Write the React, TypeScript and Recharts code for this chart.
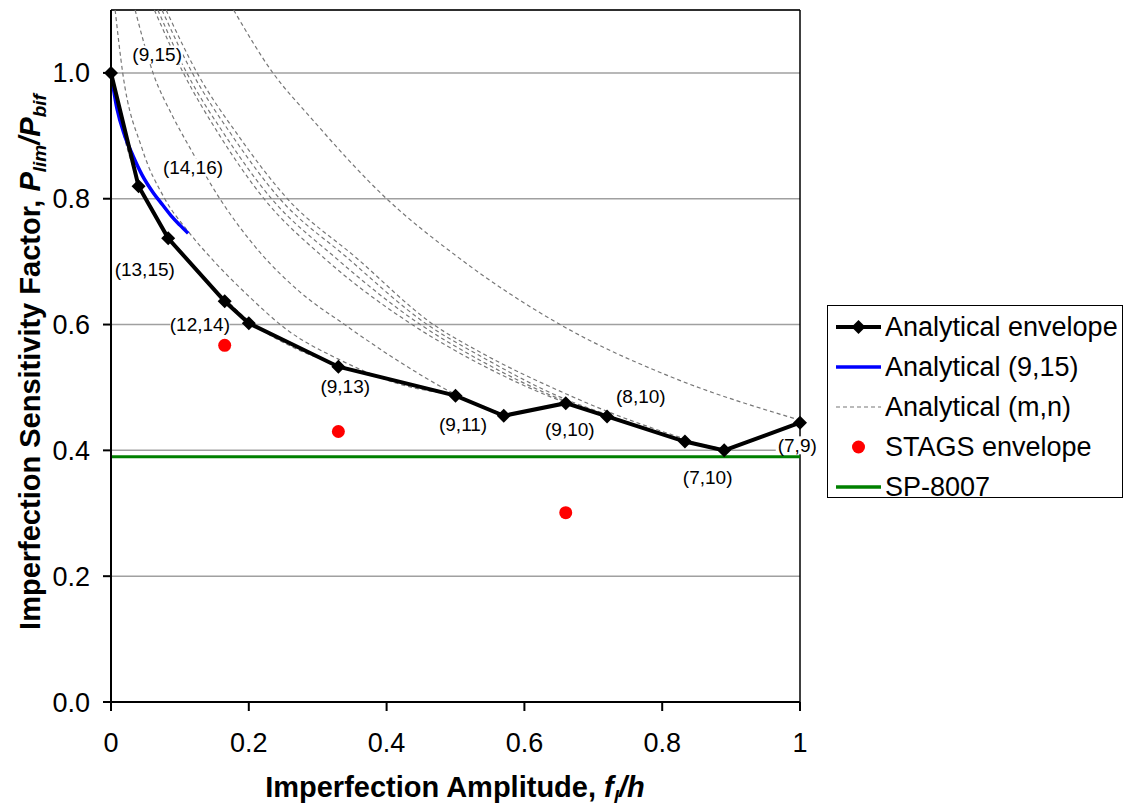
import React from "react"
import {
  CartesianGrid,
  ComposedChart,
  Line,
  ReferenceLine,
  Scatter,
  XAxis,
  YAxis,
} from "recharts"

const FONT = "'Liberation Sans', Arial, sans-serif"

// axis ticks
const xTicks = [0, 0.2, 0.4, 0.6, 0.8, 1]
const yTicks = [0, 0.2, 0.4, 0.6, 0.8, 1.0]

// analytical envelope
const envelopeX = [0, 0.04, 0.083, 0.165, 0.2, 0.33, 0.5, 0.57, 0.66, 0.72, 0.833, 0.89, 1.0]
const envelopeY = [1.0, 0.82, 0.737, 0.637, 0.602, 0.533, 0.487, 0.455, 0.475, 0.454, 0.414, 0.4, 0.444]

// analytical (9,15)
const mode915X = [0, 0.0087, 0.02, 0.032, 0.045, 0.061, 0.075, 0.088, 0.1, 0.112]
const mode915Y = [1.0, 0.943, 0.9, 0.868, 0.838, 0.81, 0.79, 0.772, 0.758, 0.745]

// analytical (m,n) curves, [x, y] pairs
const modeCurves: number[][][] = [
  [[0, 1.0], [0.02, 0.895], [0.04, 0.826], [0.083, 0.742], [0.12, 0.69], [0.165, 0.641], [0.2, 0.606], [0.26, 0.566], [0.33, 0.536]],
  [[0.006, 1.1], [0.017, 1.0], [0.045, 0.88], [0.078, 0.8], [0.112, 0.748], [0.15, 0.7], [0.2, 0.645], [0.255, 0.592], [0.33, 0.545], [0.42, 0.505], [0.5, 0.488]],
  [[0.035, 1.1], [0.061, 1.0], [0.09, 0.93], [0.115, 0.88], [0.158, 0.8], [0.216, 0.715], [0.274, 0.652], [0.339, 0.6], [0.42, 0.54], [0.5, 0.489], [0.57, 0.457]],
  [[0.063, 1.1], [0.105, 1.0], [0.158, 0.9], [0.222, 0.8], [0.308, 0.707], [0.437, 0.6], [0.536, 0.537], [0.66, 0.476], [0.72, 0.455], [0.833, 0.415], [0.89, 0.401]],
  [[0.068, 1.1], [0.11, 1.0], [0.166, 0.9], [0.233, 0.8], [0.325, 0.707], [0.449, 0.6], [0.536, 0.543], [0.66, 0.478], [0.72, 0.456], [0.833, 0.416], [0.89, 0.402]],
  [[0.074, 1.1], [0.118, 1.0], [0.176, 0.9], [0.245, 0.8], [0.342, 0.707], [0.459, 0.6], [0.536, 0.55], [0.66, 0.481], [0.72, 0.457]],
  [[0.08, 1.1], [0.125, 1.0], [0.185, 0.9], [0.256, 0.8], [0.355, 0.707], [0.468, 0.6], [0.536, 0.556], [0.66, 0.49], [0.72, 0.462], [0.833, 0.418]],
  [[0.178, 1.1], [0.235, 1.0], [0.289, 0.93], [0.4, 0.8], [0.5, 0.71], [0.66, 0.595], [0.81, 0.518], [1.0, 0.448]],
]

// STAGS envelope
const stagsX = [0.165, 0.33, 0.66]
const stagsY = [0.567, 0.43, 0.301]

// SP-8007
const sp8007X = [0, 1]
const sp8007Y = [0.39, 0.39]

// mode labels
const modeLabels = ["(9,15)", "(14,16)", "(13,15)", "(12,14)", "(9,13)", "(9,11)", "(9,10)", "(8,10)", "(7,10)", "(7,9)"]
const modeLabelX = [0.067, 0.119, 0.049, 0.129, 0.34, 0.511, 0.666, 0.769, 0.866, 0.996]
const modeLabelY = [1.029, 0.85, 0.688, 0.6, 0.502, 0.441, 0.433, 0.486, 0.357, 0.408]

const toPoints = (xs: number[], ys: number[]) => xs.map((x, i) => ({ x, y: ys[i] }))

const envelopeData = toPoints(envelopeX, envelopeY)
const mode915Data = toPoints(mode915X, mode915Y)
const stagsData = toPoints(stagsX, stagsY)
const sp8007Data = toPoints(sp8007X, sp8007Y)
const labelData = modeLabels.map((label, i) => ({ x: modeLabelX[i], y: modeLabelY[i], label }))

const Diamond = (props: any) => {
  const { cx, cy } = props
  if (cx == null || cy == null) return null
  const s = 7
  return (
    <polygon
      points={`${cx},${cy - s} ${cx + s},${cy} ${cx},${cy + s} ${cx - s},${cy}`}
      fill="#000"
    />
  )
}

const RedDot = (props: any) => <circle cx={props.cx} cy={props.cy} r={6.5} fill="#ff0000" />

const ModeLabel = (props: any) => {
  const { cx, cy, payload } = props
  const w = payload.label.length * 8.2 + 2
  return (
    <g>
      <rect x={cx - w / 2} y={cy - 9} width={w} height={18} fill="#fff" />
      <text x={cx} y={cy} dy="0.35em" textAnchor="middle" fontSize={19} fontFamily={FONT} fill="#000">
        {payload.label}
      </text>
    </g>
  )
}

const XTitle = () => (
  <text x={455} y={797} textAnchor="middle" fontSize={29} fontWeight="bold" fontFamily={FONT} fill="#000">
    Imperfection Amplitude,{" "}
    <tspan fontStyle="italic">f</tspan>
    <tspan fontStyle="italic" fontSize={19} dy={6}>l</tspan>
    <tspan fontStyle="italic" dy={-6}>/h</tspan>
  </text>
)

const YTitle = () => (
  <text
    x={0}
    y={0}
    transform="translate(40, 362) rotate(-90)"
    textAnchor="middle"
    fontSize={29}
    fontWeight="bold"
    fontFamily={FONT}
    fill="#000"
  >
    Imperfection Sensitivity Factor,{" "}
    <tspan fontStyle="italic">P</tspan>
    <tspan fontStyle="italic" fontSize={19} dy={6}>lim</tspan>
    <tspan fontStyle="italic" dy={-6}>/P</tspan>
    <tspan fontStyle="italic" fontSize={19} dy={6}>bif</tspan>
  </text>
)

const legendItems = [
  { name: "Analytical envelope", kind: "envelope" },
  { name: "Analytical (9,15)", kind: "blue" },
  { name: "Analytical (m,n)", kind: "dash" },
  { name: "STAGS envelope", kind: "dot" },
  { name: "SP-8007", kind: "green" },
]

const LegendBox = () => (
  <div
    style={{
      position: "absolute",
      left: 827,
      top: 305,
      width: 294,
      height: 191,
      border: "1px solid #000",
      background: "#fff",
      fontFamily: FONT,
      fontSize: 27,
      color: "#000",
    }}
  >
    {legendItems.map((item, i) => (
      <div
        key={item.name}
        style={{ position: "absolute", left: 0, top: 1 + i * 40, height: 40, display: "flex", alignItems: "center" }}
      >
        <svg width={56} height={40} style={{ display: "block" }}>
          {item.kind === "envelope" && (
            <g>
              <line x1={8} x2={53} y1={20} y2={20} stroke="#000" strokeWidth={4} />
              <polygon points="30.5,13 37.5,20 30.5,27 23.5,20" fill="#000" />
            </g>
          )}
          {item.kind === "blue" && <line x1={8} x2={53} y1={20} y2={20} stroke="#0000ff" strokeWidth={3.5} />}
          {item.kind === "dash" && (
            <line x1={8} x2={53} y1={20} y2={20} stroke="#777" strokeWidth={1.2} strokeDasharray="4 3" />
          )}
          {item.kind === "dot" && <circle cx={30.5} cy={20} r={6.5} fill="#ff0000" />}
          {item.kind === "green" && <line x1={8} x2={53} y1={20} y2={20} stroke="#008000" strokeWidth={3.5} />}
        </svg>
        <span style={{ marginLeft: 1, whiteSpace: "nowrap" }}>{item.name}</span>
      </div>
    ))}
  </div>
)

export default function App() {
  return (
    <div style={{ position: "fixed", left: 0, top: 0, width: 1124, height: 809, background: "#fff" }}>
      <ComposedChart
        width={1124}
        height={809}
        margin={{ top: 10, right: 324, left: 0, bottom: 0 }}
        style={{ fontFamily: FONT }}
      >
        <CartesianGrid vertical={false} stroke="#a0a0a0" strokeWidth={1.5} />
        <XAxis
          dataKey="x"
          type="number"
          domain={[0, 1]}
          ticks={xTicks}
          height={107}
          stroke="#000"
          strokeWidth={2}
          tickSize={9}
          tickMargin={22}
          tick={{ fill: "#000", fontSize: 27 }}
        />
        <YAxis
          dataKey="y"
          type="number"
          domain={[0, 1.1]}
          ticks={yTicks}
          width={111}
          stroke="#000"
          strokeWidth={2}
          tickSize={8}
          tickMargin={13}
          tick={{ fill: "#000", fontSize: 27 }}
          tickFormatter={(v: number) => v.toFixed(1)}
        />
        <ReferenceLine y={1.1} stroke="#000" strokeWidth={1.5} />
        <ReferenceLine x={1} stroke="#000" strokeWidth={1.5} />
        {modeCurves.map((curve, i) => (
          <Line
            key={`mn-${i}`}
            data={curve.map(([x, y]) => ({ x, y }))}
            dataKey="y"
            type="monotone"
            stroke="#777"
            strokeWidth={1.2}
            strokeDasharray="4 3"
            dot={false}
            isAnimationActive={false}
          />
        ))}
        <Line
          data={mode915Data}
          dataKey="y"
          type="monotone"
          stroke="#0000ff"
          strokeWidth={3.5}
          dot={false}
          isAnimationActive={false}
        />
        <Line
          data={envelopeData}
          dataKey="y"
          type="linear"
          stroke="#000"
          strokeWidth={4}
          dot={<Diamond />}
          isAnimationActive={false}
        />
        <Line
          data={sp8007Data}
          dataKey="y"
          type="linear"
          stroke="#008000"
          strokeWidth={3}
          dot={false}
          isAnimationActive={false}
        />
        <Scatter data={stagsData} dataKey="y" shape={<RedDot />} isAnimationActive={false} />
        <Scatter data={labelData} dataKey="y" shape={<ModeLabel />} isAnimationActive={false} />
      </ComposedChart>
      <svg
        width={1124}
        height={809}
        style={{ position: "absolute", left: 0, top: 0, pointerEvents: "none" }}
      >
        <XTitle />
        <YTitle />
      </svg>
      <LegendBox />
    </div>
  )
}
